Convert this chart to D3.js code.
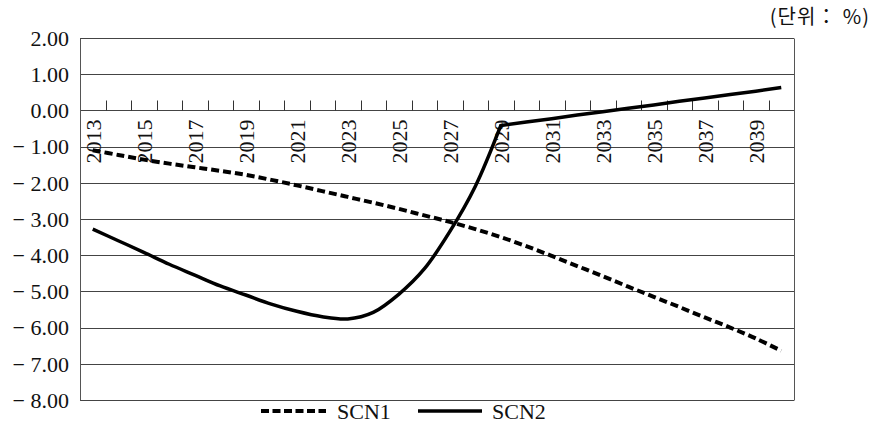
<!DOCTYPE html>
<html>
<head>
<meta charset="utf-8">
<script src="https://cdn.jsdelivr.net/npm/d3@7"></script>
<style>
  html, body { margin: 0; padding: 0; background: #fff; }
  .serif { font-family: "Liberation Serif", "Times New Roman", serif; }
  .kr { font-family: "Noto Sans CJK KR", "Liberation Serif", serif; }
</style>
</head>
<body>
<svg id="chart" width="874" height="437"></svg>
<script>
// Years on the category axis
const years = d3.range(2013, 2041).map(String);
// Labelled years (every second one)
const yearLabels = years.filter((d, i) => i % 2 === 0);
// Y tick values
const yTicks = [2, 1, 0, -1, -2, -3, -4, -5, -6, -7, -8];

// Scenario 1 (dashed)
const scn1 = [-1.10, -1.23, -1.36, -1.47, -1.57, -1.67, -1.78, -1.92, -2.07, -2.23,
              -2.39, -2.55, -2.72, -2.90, -3.08, -3.28, -3.50, -3.75, -4.02, -4.30,
              -4.58, -4.87, -5.15, -5.43, -5.72, -6.00, -6.30, -6.64];
// Scenario 2 (solid)
const scn2 = [-3.28, -3.60, -3.92, -4.25, -4.55, -4.85, -5.10, -5.35, -5.55, -5.70,
              -5.76, -5.58, -5.08, -4.38, -3.35, -2.10, -0.42, -0.32, -0.23, -0.13,
              -0.04, 0.06, 0.15, 0.25, 0.34, 0.44, 0.53, 0.63];

const svg = d3.select("#chart");
const plotL = 80, plotR = 794, plotT = 38, plotB = 400;

const x = d3.scaleBand().domain(years).range([plotL, plotR]).paddingInner(0).paddingOuter(0);
const y = d3.scaleLinear().domain([-8, 2]).range([plotB, plotT]);
const cx = d => x(d) + x.bandwidth() / 2;

// horizontal gridlines
svg.append("g").selectAll("line").data(yTicks).join("line")
  .attr("x1", plotL).attr("x2", plotR)
  .attr("y1", d => Math.round(y(d)) + 0.5).attr("y2", d => Math.round(y(d)) + 0.5)
  .attr("stroke", "#444").attr("stroke-width", 1);

// plot frame sides
svg.append("line").attr("x1", plotL + 0.5).attr("x2", plotL + 0.5)
  .attr("y1", Math.round(y(2)) + 0.5).attr("y2", Math.round(y(-8)) + 0.5)
  .attr("stroke", "#555");
svg.append("line").attr("x1", plotR + 0.5).attr("x2", plotR + 0.5)
  .attr("y1", Math.round(y(2)) + 0.5).attr("y2", Math.round(y(-8)) + 0.5)
  .attr("stroke", "#555");

// y axis labels
const fmt = v => (v < 0 ? "\u2212 " : "") + Math.abs(v).toFixed(2);
svg.append("g").attr("class", "serif").selectAll("text").data(yTicks).join("text")
  .attr("x", 69).attr("y", d => y(d)).attr("dy", "0.35em")
  .attr("text-anchor", "end").attr("font-size", 22).attr("fill", "#111")
  .text(fmt);

// category axis on the zero line
const y0 = Math.round(y(0)) + 0.5;
svg.append("g").selectAll("line").data(years.slice(1)).join("line")
  .attr("x1", d => Math.round(x(d)) + 0.5).attr("x2", d => Math.round(x(d)) + 0.5)
  .attr("y1", y0).attr("y2", y0 - 10)
  .attr("stroke", "#333");

svg.append("g").attr("class", "serif").selectAll("text").data(yearLabels).join("text")
  .attr("transform", d => `translate(${cx(d) + 1},${y0 + 9}) rotate(-90)`)
  .attr("dy", "0.35em").attr("text-anchor", "end").attr("font-size", 22).attr("fill", "#111")
  .text(d => d);

// series lines
const line1 = d3.line().x((d, i) => cx(years[i])).y(d => y(d)).curve(d3.curveCatmullRom.alpha(0));
svg.append("path").attr("d", line1(scn1))
  .attr("fill", "none").attr("stroke", "#000").attr("stroke-width", 4)
  .attr("stroke-dasharray", "8,4");

// scenario 2: smooth up to 2029, straight afterwards
const k = years.indexOf("2029");
const line2a = d3.line().x(d => cx(years[d.i])).y(d => y(d.v)).curve(d3.curveCatmullRom.alpha(0.5));
const line2b = d3.line().x(d => cx(years[d.i])).y(d => y(d.v));
const pts2 = scn2.map((v, i) => ({ i, v }));
svg.append("path").attr("d", line2a(pts2.slice(0, k + 1)) + line2b(pts2.slice(k)).replace(/^M/, "L"))
  .attr("fill", "none").attr("stroke", "#000").attr("stroke-width", 3.5)
  .attr("stroke-linejoin", "miter");

// legend
const ly = 411;
const legend = svg.append("g").attr("class", "serif");
legend.append("line").attr("x1", 261).attr("x2", 326).attr("y1", ly).attr("y2", ly)
  .attr("stroke", "#000").attr("stroke-width", 4).attr("stroke-dasharray", "8,3.5");
legend.append("text").attr("x", 337).attr("y", ly).attr("dy", "0.35em").attr("font-size", 22).attr("fill", "#111").text("SCN1");
legend.append("line").attr("x1", 418).attr("x2", 482).attr("y1", ly).attr("y2", ly)
  .attr("stroke", "#000").attr("stroke-width", 3.5);
legend.append("text").attr("x", 492).attr("y", ly).attr("dy", "0.35em").attr("font-size", 22).attr("fill", "#111").text("SCN2");

// unit note
svg.append("text").attr("class", "kr").attr("x", 870).attr("y", 17).attr("dy", "0.35em")
  .attr("text-anchor", "end").attr("font-size", 20).attr("letter-spacing", 1).attr("fill", "#111")
  .text("(단위： %)");
</script>
</body>
</html>
